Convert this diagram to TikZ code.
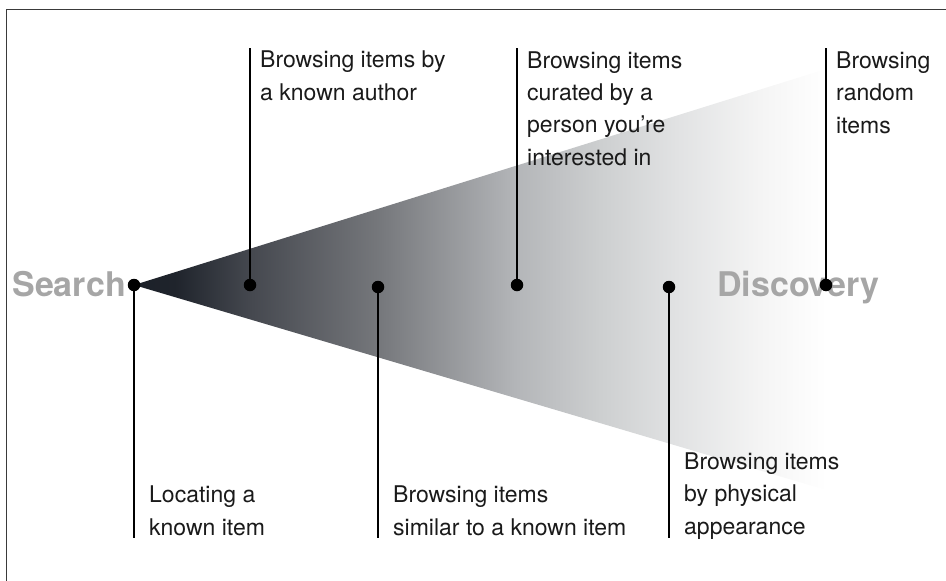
\documentclass[tikz,border=0pt]{standalone}
\usepackage{fontspec}
\setmainfont{TeX Gyre Heros}
\definecolor{txt}{HTML}{1A1A1A}
\definecolor{endgray}{HTML}{A6A6A6}
\definecolor{framec}{HTML}{3A3A3A}
\definecolor{ca}{HTML}{1C2028}
\definecolor{cb}{HTML}{1F242C}
\definecolor{cc}{HTML}{45484F}
\definecolor{cd}{HTML}{76787C}
\definecolor{ce}{HTML}{B3B5B8}
\definecolor{cf}{HTML}{CDCFD0}
\definecolor{cg}{HTML}{E2E3E4}
\definecolor{ch}{HTML}{F4F4F4}
\pgfdeclarehorizontalshading{cone}{100bp}{color(0bp)=(ca); color(25bp)=(ca); color(27.96bp)=(cb); color(33.4bp)=(cc); color(42.8bp)=(cd); color(52.5bp)=(ce); color(58.7bp)=(cf); color(64.5bp)=(cg); color(70.2bp)=(ch); color(75bp)=(white); color(100bp)=(white)}
\tikzset{
  dot/.style={circle, fill=black, inner sep=0pt, minimum size=12.5pt},
  stem/.style={line width=2.3pt, black},
  lbl/.style={anchor=base west, align=left, inner sep=0pt, text=txt,
    font=\fontsize{23}{32.3}\selectfont},
  endword/.style={inner sep=0pt, text=endgray, font=\fontsize{34}{40}\selectfont\bfseries},
  frame/.style={line width=1.3pt, framec}
}
\begin{document}
\begin{tikzpicture}[x=1pt,y=-1pt]
\useasboundingbox (0,0) rectangle (946,581);
\draw[frame] (6.5,581) -- (6.5,9.5) -- (946,9.5);
% cone
\shade[shading=cone] (134,285) -- (826,69) -- (826,490) -- cycle;
% end words
\node[endword, anchor=base east] (search) at (126,296) {Search};
\node[endword, anchor=base west] (discovery) at (717,296) {Discovery};
% end points of stems
\coordinate (t1) at (250,48);
\coordinate (t2) at (517,48);
\coordinate (t3) at (826,48);
\coordinate (b0) at (134,538);
\coordinate (b1) at (378,538);
\coordinate (b2) at (669,538);
% dots
\node[dot] (d0) at (134,285) {};
\node[dot] (d1) at (250,285) {};
\node[dot] (d2) at (378,287) {};
\node[dot] (d3) at (517,285) {};
\node[dot] (d4) at (669,287) {};
\node[dot] (d5) at (826,285) {};
% stems
\draw[stem] (d0.center) -- (b0);
\draw[stem] (d1.center) -- (t1);
\draw[stem] (d2.center) -- (b1);
\draw[stem] (d3.center) -- (t2);
\draw[stem] (d4.center) -- (b2);
\draw[stem] (d5.center) -- (t3);
% labels (anchored at the baseline of their last line)
\node[lbl] (l1) at (260,100) {Browsing items by\\a known author};
\node[lbl] (l2) at (527,165) {Browsing items\\curated by a\\person you’re\\interested in};
\node[lbl] (l3) at (836,133) {Browsing\\random\\items};
\node[lbl] (l4) at (149,535) {Locating a\\known item};
\node[lbl] (l5) at (393,535) {Browsing items\\similar to a known item};
\node[lbl] (l6) at (684,534) {Browsing items\\by physical\\appearance};
\end{tikzpicture}
\end{document}
